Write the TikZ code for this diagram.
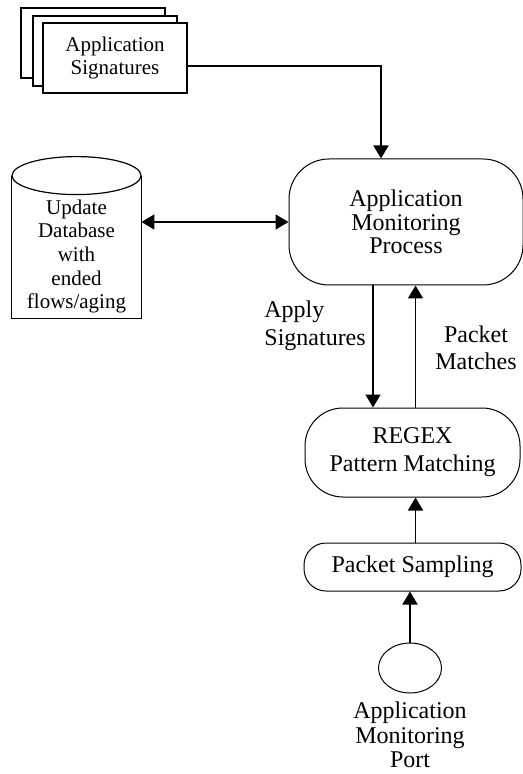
\documentclass[tikz,border=0pt]{standalone}
\usepackage{fontspec}
\setmainfont{Liberation Serif}
\usetikzlibrary{arrows.meta,positioning,shapes.geometric,shadows}

\begin{document}
\begin{tikzpicture}[
    x=0.5pt, y=-0.5pt,
    txt/.style={align=center, font=\fontsize{12}{11.7}\selectfont, inner sep=0pt},
    doc/.style={draw, line width=0.6pt, fill=white, minimum width=72pt, minimum height=35pt,
      align=center, font=\fontsize{10.5}{11.3}\selectfont,
      copy shadow={shadow xshift=-11pt, shadow yshift=7.5pt, line width=0.6pt},
      copy shadow={shadow xshift=-5pt, shadow yshift=3.5pt, line width=0.6pt}},
    proc/.style={txt, draw, line width=0.5pt},
    dbbox/.style={align=center, inner sep=0pt, font=\fontsize{10.5}{11.85}\selectfont,
      minimum width=64.5pt, minimum height=61.5pt},
    dbline/.style={line width=0.6pt},
    arr/.style={-{Triangle[length=6.5pt,width=7.5pt]}, line width=0.8pt}
  ]
    \useasboundingbox (0,0) rectangle (523,774);

    \node[doc] (sig) at (115,58) {Application\\Signatures};
    \node[proc, rounded corners=20pt, minimum width=117pt, minimum height=63pt] (amp) at (406,222) {Application\\Monitoring\\Process};
    \node[dbbox] (db) at (76.5,256.5) {Update\\Database\\with\\ended\\flows/aging};
    \node[proc, rounded corners=19pt, minimum width=107.5pt, minimum height=44.5pt,
      font=\fontsize{12}{14}\selectfont] (regex) at (412.5,452.5) {REGEX\\Pattern Matching};
    \node[proc, rounded corners=11pt, minimum width=108.5pt, minimum height=24pt] (ps) at (412.5,567) {Packet Sampling};
    \node[draw, ellipse, line width=0.5pt, minimum width=31.5pt, minimum height=25pt] (port) at (410,668) {};
    \node[txt, font=\fontsize{12}{12.3}\selectfont, below=4pt of port] (portlbl) {Application\\Monitoring\\Port};

    % database drum
    \draw[dbline] ([yshift=9.5pt]db.north west) -- (db.south west) -- (db.south east) -- ([yshift=9.5pt]db.north east);
    \draw[dbline] ([yshift=9.5pt]db.north) ellipse [x radius=32.25pt, y radius=9.5pt];

    % labels on the links
    \node[txt, align=left, anchor=west, font=\fontsize{12}{14}\selectfont] (apply) at (264,326) {Apply\\Signatures};
    \node[txt, font=\fontsize{12}{13.5}\selectfont] (matches) at (476,348) {Packet\\Matches};

    \draw[arr] ([yshift=-4pt]sig.east) -| ([xshift=-12.5pt]amp.north);
    \draw[arr, {Triangle[length=6.5pt,width=7.5pt]}-{Triangle[length=6.5pt,width=7.5pt]}] (db.east |- amp.west) -- (amp.west);
    \draw[arr] ([xshift=-16.5pt]amp.south) -- ([xshift=-16.5pt]amp.south |- regex.north);
    \draw[arr] ([xshift=1.5pt]regex.north) -- ([xshift=1.5pt]regex.north |- amp.south);
    \draw[arr] ([xshift=1.5pt]ps.north) -- ([xshift=1.5pt]ps.north |- regex.south);
    \draw[arr] (port.north) -- (port.north |- ps.south);
  \end{tikzpicture}
\end{document}
